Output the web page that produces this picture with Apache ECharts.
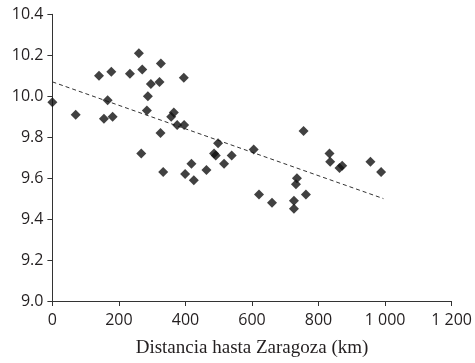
<!DOCTYPE html>
<html>
<head>
<meta charset="utf-8">
<script src="https://cdn.jsdelivr.net/npm/echarts@6/dist/echarts.min.js"></script>
<style>
html,body{margin:0;padding:0;background:#fff;}
#chart{width:475px;height:363px;}
</style>
</head>
<body>
<div id="chart"></div>
<script>
// Distance to Zaragoza (km)
var distances = [0, 70, 140, 177, 166, 155, 181, 233, 260, 270, 296, 287, 284, 326, 322, 395,
  357, 365, 375, 396, 325, 267, 333, 418, 399, 425, 463, 486, 491, 498, 516, 539,
  755, 605, 833, 835, 863, 871, 956, 988, 735, 621, 660, 732, 726, 726, 762];
var values = [9.97, 9.91, 10.10, 10.12, 9.98, 9.89, 9.90, 10.11, 10.21, 10.13, 10.06, 10.00, 9.93, 10.16, 10.07, 10.09,
  9.90, 9.92, 9.86, 9.86, 9.82, 9.72, 9.63, 9.67, 9.62, 9.59, 9.64, 9.72, 9.71, 9.77, 9.67, 9.71,
  9.83, 9.74, 9.72, 9.68, 9.65, 9.66, 9.68, 9.63, 9.60, 9.52, 9.48, 9.57, 9.49, 9.45, 9.52];
var trendX = [0, 995];
var trendY = [10.07, 9.50];
var xTicks = [0, 200, 400, 600, 800, 1000, 1200];
var yTicks = [9.0, 9.2, 9.4, 9.6, 9.8, 10.0, 10.2, 10.4];

var points = distances.map(function (d, i) { return [d, values[i]]; });
var trend = trendX.map(function (d, i) { return [d, trendY[i]]; });

var chart = echarts.init(document.getElementById('chart'), null, {renderer: 'canvas'});
var axisColor = '#333';
var textColor = '#231f20';
chart.setOption({
  animation: false,
  backgroundColor: '#fff',
  grid: {left: 52.4, right: 22.6, top: 14.3, bottom: 62, containLabel: false},
  xAxis: {
    type: 'value', min: xTicks[0], max: xTicks[xTicks.length - 1], interval: 200,
    name: 'Distancia hasta Zaragoza (km)', nameLocation: 'middle', nameGap: 38,
    nameTextStyle: {fontFamily: 'Liberation Serif', fontSize: 19, color: textColor},
    axisLine: {show: true, lineStyle: {color: axisColor, width: 1}},
    axisTick: {show: true, inside: false, length: 5, lineStyle: {color: axisColor}},
    axisLabel: {fontFamily: 'Open Sans', fontSize: 16, color: textColor, margin: 11,
      formatter: function (v) { return v >= 1000 ? Math.floor(v / 1000) + ' ' + String(v % 1000).padStart(3, '0') : String(v); }},
    splitLine: {show: false}
  },
  yAxis: {
    type: 'value', min: yTicks[0], max: yTicks[yTicks.length - 1], interval: 0.2,
    axisLine: {show: true, lineStyle: {color: axisColor, width: 1}},
    axisTick: {show: true, inside: false, length: 5, lineStyle: {color: axisColor}},
    axisLabel: {fontFamily: 'Open Sans', fontSize: 16, color: textColor, margin: 9,
      formatter: function (v) { return v.toFixed(1); }},
    splitLine: {show: false}
  },
  series: [
    {
      type: 'scatter', data: points, symbol: 'diamond', symbolSize: 10,
      itemStyle: {color: '#111'}, z: 3
    },
    {
      type: 'line', data: trend, showSymbol: false, symbol: 'none',
      lineStyle: {color: '#333', width: 1, type: [4, 3]}, z: 2
    }
  ]
});
</script>
</body>
</html>
